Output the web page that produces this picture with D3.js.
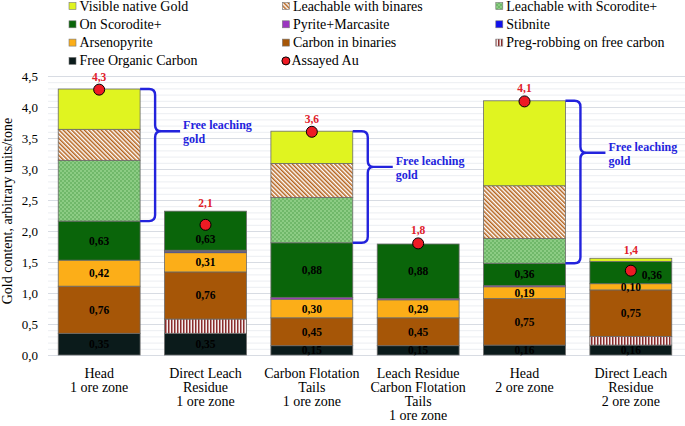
<!DOCTYPE html>
<html>
<head>
<meta charset="utf-8">
<script src="https://cdn.jsdelivr.net/npm/d3@7"></script>
<style>
  html, body { margin: 0; padding: 0; background: #fff; }
  svg { display: block; font-family: "Liberation Serif", "Times New Roman", serif; }
</style>
</head>
<body>
<script>
// ---------- data ----------
const categories = [
  ["Head", "1 ore zone"],
  ["Direct Leach", "Residue", "1 ore zone"],
  ["Carbon Flotation", "Tails", "1 ore zone"],
  ["Leach Residue", "Carbon Flotation", "Tails", "1 ore zone"],
  ["Head", "2 ore zone"],
  ["Direct Leach", "Residue", "2 ore zone"]
];
const freeOrganicCarbon = [0.35, 0.35, 0.15, 0.15, 0.16, 0.16];
const pregRobbing       = [0.00, 0.23, 0.00, 0.00, 0.00, 0.14];
const carbonInBinaries  = [0.76, 0.76, 0.45, 0.45, 0.75, 0.75];
const arsenopyrite      = [0.42, 0.31, 0.30, 0.29, 0.19, 0.10];
const stibnite          = [0.00, 0.02, 0.00, 0.00, 0.00, 0.00];
const pyriteMarcasite   = [0.00, 0.02, 0.03, 0.02, 0.02, 0.00];
const onScorodite       = [0.63, 0.63, 0.88, 0.88, 0.36, 0.36];
const leachScorodite    = [0.98, 0.00, 0.73, 0.00, 0.40, 0.00];
const leachBinaries     = [0.50, 0.00, 0.55, 0.00, 0.85, 0.00];
const visibleGold       = [0.65, 0.00, 0.52, 0.00, 1.37, 0.05];
const assayedAu         = [4.28, 2.10, 3.60, 1.80, 4.09, 1.36];
const assayedLabels     = ["4,3", "2,1", "3,6", "1,8", "4,1", "1,4"];
const yTicks            = [0, 0.5, 1, 1.5, 2, 2.5, 3, 3.5, 4, 4.5];
const braceBars         = [0, 2, 4];
const braceText         = ["Free leaching", "gold"];

const series = [
  { key: "foc",   name: "Free Organic Carbon",         values: freeOrganicCarbon, fill: "#0b1b1b", label: true },
  { key: "preg",  name: "Preg-robbing on free carbon", values: pregRobbing,       fill: "url(#pPreg)" },
  { key: "cbin",  name: "Carbon in binaries",          values: carbonInBinaries,  fill: "#a65607", label: true },
  { key: "arsp",  name: "Arsenopyrite",                values: arsenopyrite,      fill: "#fcae18", label: true },
  { key: "stib",  name: "Stibnite",                    values: stibnite,          fill: "#1010ee" },
  { key: "pyr",   name: "Pyrite+Marcasite",            values: pyriteMarcasite,   fill: "#9b36c0" },
  { key: "scor",  name: "On Scorodite+",               values: onScorodite,       fill: "#0a650a", label: true },
  { key: "lscor", name: "Leachable with Scorodite+",   values: leachScorodite,    fill: "url(#pCheck)" },
  { key: "lbin",  name: "Leachable with binares",      values: leachBinaries,     fill: "url(#pHatch)" },
  { key: "vis",   name: "Visible native Gold",         values: visibleGold,       fill: "#e0f420" }
];
const legendOrder = ["vis", "lbin", "lscor", "scor", "pyr", "stib", "arsp", "cbin", "preg", "foc", "assay"];

// ---------- svg ----------
const W = 685, H = 426;
const svg = d3.select("body").append("svg").attr("width", W).attr("height", H);
const defs = svg.append("defs");

const pH = defs.append("pattern").attr("id", "pHatch").attr("patternUnits", "userSpaceOnUse")
  .attr("width", 3).attr("height", 3).attr("patternTransform", "rotate(-45)");
pH.append("rect").attr("width", 3).attr("height", 3).attr("fill", "#ffffff");
pH.append("rect").attr("width", 1.5).attr("height", 3).attr("fill", "#b4621c");

const pC = defs.append("pattern").attr("id", "pCheck").attr("patternUnits", "userSpaceOnUse")
  .attr("width", 4).attr("height", 4);
pC.append("rect").attr("width", 4).attr("height", 4).attr("fill", "#8ccc84");
pC.append("rect").attr("width", 2).attr("height", 2).attr("fill", "#70b86a");
pC.append("rect").attr("x", 2).attr("y", 2).attr("width", 2).attr("height", 2).attr("fill", "#70b86a");

const pP = defs.append("pattern").attr("id", "pPreg").attr("patternUnits", "userSpaceOnUse")
  .attr("width", 3).attr("height", 3);
pP.append("rect").attr("width", 3).attr("height", 3).attr("fill", "#f4eeee");
pP.append("rect").attr("width", 1.5).attr("height", 3).attr("fill", "#8a2c2c");

// scales
const y = d3.scaleLinear().domain([0, 4.5]).range([355, 76]);
const x = d3.scaleBand().domain(d3.range(categories.length)).range([46, 684])
  .paddingInner(0.23).paddingOuter(0.115);

// gridlines
const grid = svg.append("g");
const minor = d3.range(0, 46).map(i => i / 10);
grid.selectAll("line").data(minor).join("line")
  .attr("x1", 48).attr("x2", W)
  .attr("y1", d => y(d) + 0.5).attr("y2", d => y(d) + 0.5)
  .attr("stroke", (d, i) => i % 5 === 0 ? "#d8dce3" : "#eceef2")
  .attr("stroke-width", 1);

// y axis
const fmt1 = v => d3.format(".1f")(v).replace(".", ",");
const yAxis = svg.append("g").attr("transform", "translate(41,0)")
  .call(d3.axisLeft(y).tickValues(yTicks).tickSize(0).tickPadding(3).tickFormat(fmt1));
yAxis.select(".domain").remove();
yAxis.selectAll("text").attr("font-family", "Liberation Serif").attr("font-size", 13).attr("fill", "#000");

svg.append("text")
  .attr("transform", `translate(12,${211}) rotate(-90)`)
  .attr("text-anchor", "middle").attr("font-size", 14).attr("fill", "#000")
  .text("Gold content, arbitrary units/tone");

// stacked data
const table = categories.map((c, i) => {
  const row = { i };
  series.forEach(s => row[s.key] = s.values[i]);
  return row;
});
const stack = d3.stack().keys(series.map(s => s.key))(table);

const bars = svg.append("g");
stack.forEach((layer, li) => {
  const s = series[li];
  bars.append("g").selectAll("rect").data(layer.filter(d => d[1] - d[0] > 0)).join("rect")
    .attr("x", d => x(d.data.i))
    .attr("width", x.bandwidth())
    .attr("y", d => y(d[1]))
    .attr("height", d => y(d[0]) - y(d[1]))
    .attr("fill", s.fill)
    .attr("stroke", "#6a6a6a").attr("stroke-width", 0.8);
});

// value labels
const fmt2 = v => d3.format(".2f")(v).replace(".", ",");
const labelShift = { "scor-1": [0, 8], "scor-5": [21, 2] };
const labG = svg.append("g").attr("font-weight", "bold").attr("font-size", 11.5)
  .attr("text-anchor", "middle").attr("fill", "#000");
stack.forEach((layer, li) => {
  const s = series[li];
  if (!s.label) return;
  layer.forEach(d => {
    const sh = labelShift[s.key + "-" + d.data.i] || [0, 0];
    labG.append("text")
      .attr("x", x(d.data.i) + x.bandwidth() / 2 + sh[0])
      .attr("y", y((d[0] + d[1]) / 2) + 4 + sh[1])
      .text(fmt2(d[1] - d[0]));
  });
});

// braces
const topLayer = stack[stack.length - 1];
const scorIdx = series.findIndex(s => s.key === "scor");
const braceG = svg.append("g");
braceBars.forEach(i => {
  const x0 = x(i) + x.bandwidth();
  const y1 = y(topLayer[i][1]);
  const y2 = y(stack[scorIdx][i][1]);
  const xv = x0 + 15, r = 6, xt = x0 + 40;
  const tip = y1 + 0.32 * (y2 - y1);
  const p = `M${x0},${y1} H${xv - r} Q${xv},${y1} ${xv},${y1 + r} V${tip - r} Q${xv},${tip} ${xv + r},${tip} H${xt}` +
            ` M${xv + r},${tip} Q${xv},${tip} ${xv},${tip + r} V${y2 - r} Q${xv},${y2} ${xv - r},${y2} H${x0}`;
  braceG.append("path").attr("d", p).attr("fill", "none").attr("stroke", "#2323dd").attr("stroke-width", 2.4);
  braceText.forEach((t, k) => {
    braceG.append("text").attr("x", xt + 3).attr("y", tip - 2 + k * 14)
      .attr("font-size", 12).attr("font-weight", "bold").attr("fill", "#2323dd").text(t);
  });
});

// assayed markers
const mk = svg.append("g");
assayedAu.forEach((v, i) => {
  const cx = x(i) + x.bandwidth() / 2;
  mk.append("circle").attr("cx", cx).attr("cy", y(v)).attr("r", 5.5)
    .attr("fill", "#ee1b24").attr("stroke", "#000").attr("stroke-width", 1);
  const ly = Math.min(y(topLayer[i][1]), y(v) - 5) - 8;
  mk.append("text").attr("x", cx).attr("y", ly + 4).attr("text-anchor", "middle")
    .attr("font-size", 11.5).attr("font-weight", "bold").attr("fill", "#e0202a").text(assayedLabels[i]);
});

// x labels
const xl = svg.append("g").attr("font-size", 14).attr("text-anchor", "middle").attr("fill", "#000");
categories.forEach((lines, i) => {
  lines.forEach((t, k) => {
    xl.append("text").attr("x", x(i) + x.bandwidth() / 2).attr("y", 378 + k * 14).text(t);
  });
});

// legend
const lg = svg.append("g").attr("font-size", 14).attr("fill", "#000");
legendOrder.forEach((key, n) => {
  const col = n % 3, row = Math.floor(n / 3);
  const lx = 69 + col * 213.4, cy = 6 + row * 18.3;
  if (key === "assay") {
    lg.append("circle").attr("cx", lx + 3.5).attr("cy", cy).attr("r", 4)
      .attr("fill", "#ee1b24").attr("stroke", "#000").attr("stroke-width", 1);
    lg.append("text").attr("x", lx + 9).attr("y", cy + 4.5).text("Assayed Au");
  } else {
    const s = series.find(s => s.key === key);
    lg.append("rect").attr("x", lx).attr("y", cy - 3.5).attr("width", 7).attr("height", 7)
      .attr("fill", s.fill).attr("stroke", "#777").attr("stroke-width", 0.6);
    lg.append("text").attr("x", lx + 10.5).attr("y", cy + 4.5).text(s.name);
  }
});
</script>
</body>
</html>
